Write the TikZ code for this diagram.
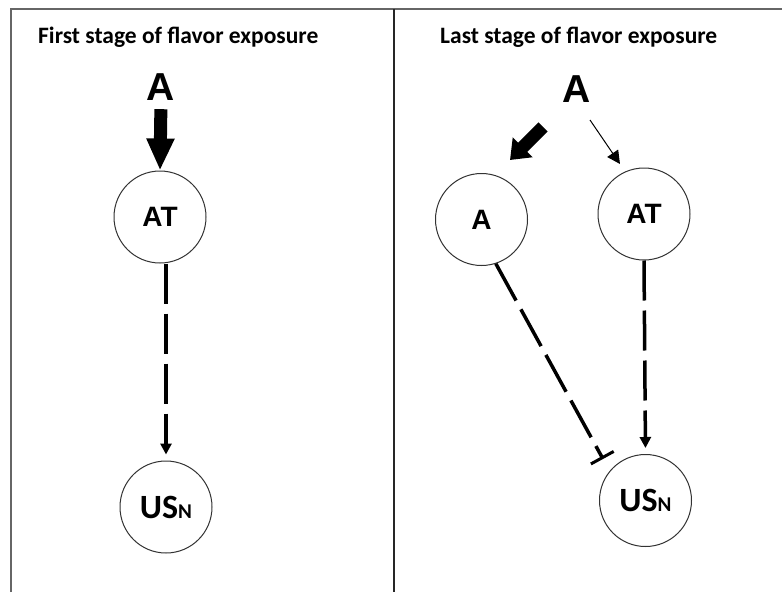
\documentclass[tikz,border=0pt]{standalone}
\usepackage{fontspec}
\setmainfont{Carlito}
\newfontfamily\arialbold{Liberation Sans Bold}
\newfontfamily\carlitobold{Carlito Bold}
\usetikzlibrary{arrows.meta}
\begin{document}
\begin{tikzpicture}[x=1pt,y=-1pt,
  circ/.style={circle,draw=black!80,line width=1pt,minimum size=92pt,inner sep=0pt},
  frameline/.style={line width=2pt,draw=black!60},
  divider/.style={line width=1.6pt,draw=black!85},
  title/.style={anchor=base west,inner sep=0pt,font=\carlitobold\fontsize{23.5}{26}\selectfont},
  bigA/.style={anchor=base,inner sep=0pt,font=\arialbold\fontsize{39}{40}\selectfont},
  cfont/.style={font=\arialbold\fontsize{28}{30}\selectfont},
  ufont/.style={font=\carlitobold},
  dashedarrow/.style={line width=3.5pt,dash pattern=on 40pt off 10pt,-{Triangle[length=11pt,width=11pt]}},
  dashedbar/.style={line width=3.5pt,dash pattern=on 42pt off 10pt,-{Bar[width=26pt,line width=3pt]}},
  thickarrow/.style={line width=13pt,-{Triangle[length=32pt,width=26pt]}},
  thickarrowb/.style={line width=13pt,-{Triangle[length=18pt,width=27pt]}},
  thinarrow/.style={line width=1pt,-{Triangle[length=13pt,width=13pt]}}
]
\useasboundingbox (0,0) rectangle (782,592);
\fill[white] (0,0) rectangle (782,592);
% frame
\draw[frameline] (11,592) -- (11,9) -- (782,9);
\draw[divider] (394,9) -- (394,592);
% titles
\node[title] (t1) at (38,43) {First stage of flavor exposure};
\node[title] (t2) at (440,43) {Last stage of flavor exposure};
% left panel
\node[bigA] (A1) at (161,100) {A};
\node[circ,cfont] (at1) at (160,217) {AT};
\node[circ,ufont] (usn1) at (166,507) {{\fontsize{34}{34}\selectfont US}{\fontsize{21}{21}\selectfont N}};
\draw[thickarrow,shorten <=9pt] (A1.south) -- (at1.north);
\draw[dashedarrow,shorten >=6pt] (at1.south -| usn1.north) -- (usn1.north);
% right panel
\node[bigA] (A2) at (577,102) {A};
\node[circ,cfont] (a2) at (481.5,219.5) {A};
\node[circ,cfont] (at2) at (644,214) {AT};
\node[circ,ufont] (usn2) at (645.5,500.5) {{\fontsize{34}{34}\selectfont US}{\fontsize{21}{21}\selectfont N}};
\draw[thickarrowb] ([shift={(-34,25)}]A2.base) -- ([shift={(28.5,-59.5)}]a2.center);
\draw[thinarrow] ([shift={(13,18)}]A2.base) -- ([shift={(-24,-50)}]at2.center);
\draw[dashedarrow,shorten >=6pt] (at2.south) -- (usn2.north);
\draw[dashedbar] (a2.288) -- ([shift={(-42.5,-41.5)}]usn2.center);
\end{tikzpicture}
\end{document}
